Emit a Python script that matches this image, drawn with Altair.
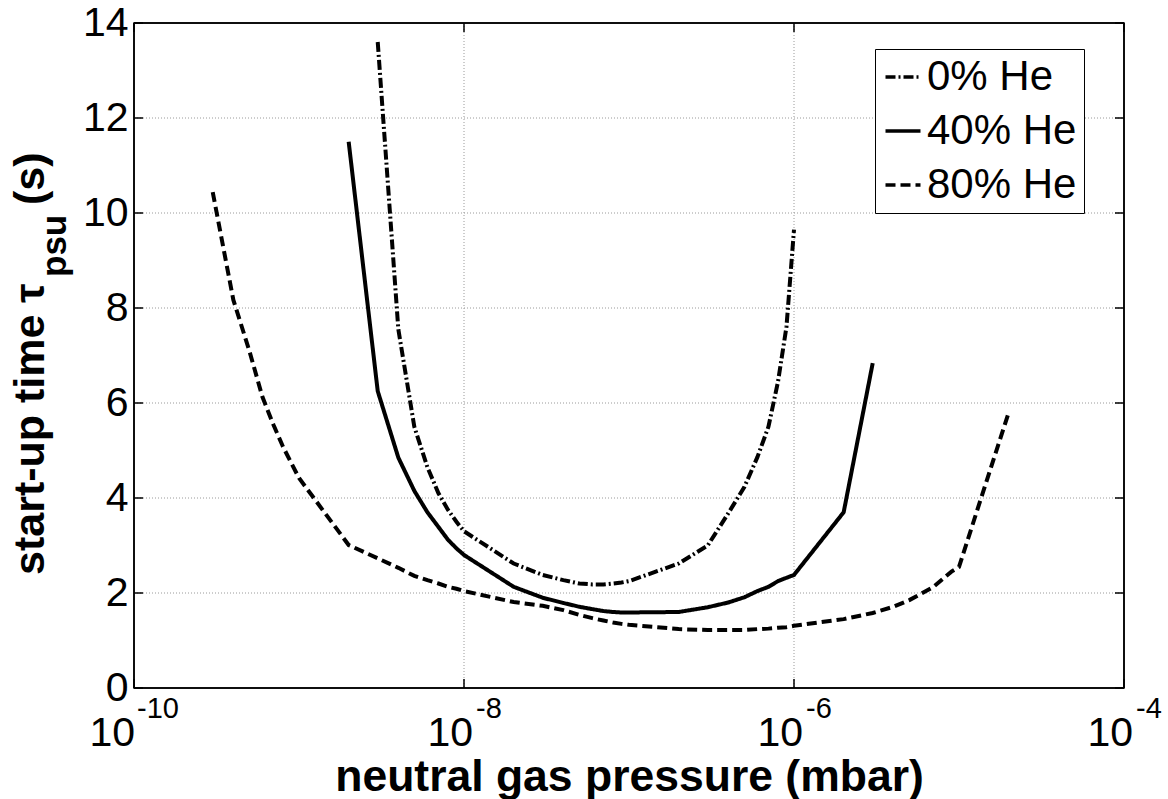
import altair as alt
import pandas as pd

# ---- data ----
series_names = ["0% He", "40% He", "80% He"]

p_0 = [3e-9, 4e-9, 5e-9, 6e-9, 7e-9, 8e-9, 9e-9,
       1e-8, 2e-8, 3e-8, 4e-8, 5e-8, 6e-8, 7e-8, 8e-8, 9e-8,
       1e-7, 2e-7, 3e-7, 4e-7, 5e-7, 6e-7, 7e-7, 8e-7, 9e-7,
       1e-6]
t_0 = [13.6, 7.55, 5.5, 4.65, 4.1, 3.75, 3.5,
       3.3, 2.62, 2.38, 2.27, 2.2, 2.18, 2.18, 2.2, 2.22,
       2.25, 2.62, 3.0, 3.68, 4.23, 4.86, 5.5, 6.45, 7.6,
       9.65]

p_40 = [2e-9, 3e-9, 4e-9, 5e-9, 6e-9, 7e-9, 8e-9, 9e-9,
        1e-8, 2e-8, 3e-8, 4e-8, 5e-8, 6e-8, 7e-8, 8e-8, 9e-8,
        1e-7, 2e-7, 3e-7, 4e-7, 5e-7, 6e-7, 7e-7, 8e-7, 9e-7,
        1e-6, 2e-6, 3e-6]
t_40 = [11.5, 6.25, 4.85, 4.15, 3.7, 3.39, 3.12, 2.94,
        2.8, 2.13, 1.9, 1.79, 1.71, 1.66, 1.62, 1.6, 1.59,
        1.59, 1.6, 1.7, 1.8, 1.91, 2.04, 2.13, 2.25, 2.32,
        2.38, 3.7, 6.84]

p_80 = [3e-10, 4e-10, 5e-10, 6e-10, 7e-10, 8e-10, 9e-10,
        1e-9, 2e-9, 3e-9, 4e-9, 5e-9, 6e-9, 7e-9, 8e-9, 9e-9,
        1e-8, 2e-8, 3e-8, 4e-8, 5e-8, 6e-8, 7e-8, 8e-8, 9e-8,
        1e-7, 2e-7, 3e-7, 4e-7, 5e-7, 6e-7, 7e-7, 8e-7, 9e-7,
        1e-6, 2e-6, 3e-6, 4e-6, 5e-6, 6e-6, 7e-6, 8e-6, 9e-6,
        1e-5, 2e-5]
t_80 = [10.44, 8.17, 7.1, 6.13, 5.54, 5.08, 4.73,
        4.42, 3.01, 2.73, 2.53, 2.36, 2.27, 2.2, 2.13, 2.09,
        2.04, 1.81, 1.73, 1.64, 1.54, 1.47, 1.42, 1.38, 1.35,
        1.33, 1.24, 1.22, 1.22, 1.22, 1.24, 1.25, 1.27, 1.28,
        1.31, 1.45, 1.58, 1.71, 1.85, 2.0, 2.13, 2.3, 2.45,
        2.55, 5.8]

x_tick_values = [1e-10, 1e-8, 1e-6, 1e-4]
x_tick_base = ["10", "10", "10", "10"]
x_tick_exp = ["-10", "-8", "-6", "-4"]
x_grid_values = [1e-8, 1e-6]
y_tick_values = [0, 2, 4, 6, 8, 10, 12, 14]
y_grid_values = [2, 4, 6, 8, 10, 12]

rows = []
for name, ps, ts in zip(series_names, [p_0, p_40, p_80], [t_0, t_40, t_80]):
    for i, (p, t) in enumerate(zip(ps, ts)):
        rows.append({"series": name, "pressure": p, "time": t, "order": i})
df = pd.DataFrame(rows)

xlab_df = pd.DataFrame({"pressure": x_tick_values, "base": x_tick_base, "exp": x_tick_exp})
xt_df = pd.DataFrame({"pressure": x_tick_values})
yt_df = pd.DataFrame({"time": y_tick_values})
xg_df = pd.DataFrame({"pressure": x_grid_values})
yg_df = pd.DataFrame({"time": y_grid_values})
one_df = pd.DataFrame({"k": [0]})

W, H = 990, 665
FONT = "Liberation Sans"
xscale = alt.Scale(type="log", domain=[1e-10, 1e-4])
yscale = alt.Scale(domain=[0, 14], nice=False)
grid_color = "#9a9a9a"

x_axis = alt.Axis(values=x_tick_values, grid=False, labels=False, ticks=False,
                  domain=False, title="neutral gas pressure (mbar)",
                  titleFontSize=44.5, titleFont=FONT, titleFontWeight="bold",
                  titleColor="black", titleBaseline="alphabetic", titleY=102)
y_axis = alt.Axis(values=y_tick_values, grid=False, ticks=False, domain=False,
                  title=None, labelFontSize=41, labelFont=FONT,
                  labelColor="black", labelPadding=6)

grid_style = dict(color=grid_color, strokeWidth=1, strokeDash=[1, 2])
x_grid = alt.Chart(xg_df).mark_rule(**grid_style).encode(
    x=alt.X("pressure:Q", scale=xscale, axis=x_axis), y=alt.value(0), y2=alt.value(H))
y_grid = alt.Chart(yg_df).mark_rule(**grid_style).encode(
    y=alt.Y("time:Q", scale=yscale, axis=y_axis), x=alt.value(0), x2=alt.value(W))

lines = alt.Chart(df).mark_line(strokeWidth=4, color="black").encode(
    x=alt.X("pressure:Q", scale=xscale, axis=x_axis),
    y=alt.Y("time:Q", scale=yscale, axis=y_axis),
    strokeDash=alt.StrokeDash(
        "series:N",
        scale=alt.Scale(domain=series_names, range=[[10, 3, 2, 3], [1, 0], [10, 5]]),
        legend=alt.Legend(orient="none", legendX=741, legendY=26, title=None,
                          symbolType="stroke", symbolSize=1225, symbolStrokeWidth=3.5,
                          symbolStrokeColor="black", labelFontSize=42, labelFont=FONT,
                          labelColor="black", padding=7, strokeColor="black",
                          fillColor="white", rowPadding=12, labelOffset=3,
                          cornerRadius=0)),
    order="order:Q",
)

tick_style = dict(color="black", strokeWidth=1.5)
left_ticks = alt.Chart(yt_df).mark_rule(**tick_style).encode(
    y=alt.Y("time:Q", scale=yscale, axis=y_axis), x=alt.value(0), x2=alt.value(9))
right_ticks = alt.Chart(yt_df).mark_rule(**tick_style).encode(
    y=alt.Y("time:Q", scale=yscale, axis=y_axis), x=alt.value(W - 9), x2=alt.value(W))
bottom_ticks = alt.Chart(xt_df).mark_rule(**tick_style).encode(
    x=alt.X("pressure:Q", scale=xscale, axis=x_axis), y=alt.value(H - 9), y2=alt.value(H))
top_ticks = alt.Chart(xt_df).mark_rule(**tick_style).encode(
    x=alt.X("pressure:Q", scale=xscale, axis=x_axis), y=alt.value(0), y2=alt.value(9))

box = [
    alt.Chart(one_df).mark_rule(**tick_style).encode(x=alt.value(0), x2=alt.value(0), y=alt.value(0), y2=alt.value(H)),
    alt.Chart(one_df).mark_rule(**tick_style).encode(x=alt.value(W), x2=alt.value(W), y=alt.value(0), y2=alt.value(H)),
    alt.Chart(one_df).mark_rule(**tick_style).encode(x=alt.value(0), x2=alt.value(W), y=alt.value(0), y2=alt.value(0)),
    alt.Chart(one_df).mark_rule(**tick_style).encode(x=alt.value(0), x2=alt.value(W), y=alt.value(H), y2=alt.value(H)),
]

def xlabel(filter_expr, base_dx, exp_dx):
    base = alt.Chart(xlab_df).transform_filter(filter_expr).mark_text(
        align="right", baseline="alphabetic", dx=base_dx, fontSize=41, font=FONT,
        color="black").encode(x=alt.X("pressure:Q", scale=xscale, axis=x_axis),
                              y=alt.value(723), text="base:N")
    exp = alt.Chart(xlab_df).transform_filter(filter_expr).mark_text(
        align="left", baseline="alphabetic", dx=exp_dx, fontSize=29, font=FONT,
        color="black").encode(x=alt.X("pressure:Q", scale=xscale, axis=x_axis),
                              y=alt.value(695), text="exp:N")
    return [base, exp]

xl = xlabel("length(datum.exp) > 2", 1, 3) + xlabel("length(datum.exp) <= 2", 9, 12)

def ytitle_piece(txt, x, y, size):
    return alt.Chart(pd.DataFrame({"t": [txt]})).mark_text(
        angle=270, align="left", baseline="alphabetic", fontSize=size,
        fontWeight="bold", font=FONT, color="black").encode(
        x=alt.value(x), y=alt.value(y), text="t:N")

yt = [ytitle_piece("start-up time τ", -90, 552, 43),
      ytitle_piece("psu", -68, 254, 35),
      ytitle_piece("(s)", -90, 182, 43)]

chart = alt.layer(x_grid, y_grid, lines, left_ticks, right_ticks, bottom_ticks, top_ticks,
                  *box, *xl, *yt).properties(
    width=W, height=H,
    autosize=alt.AutoSizeParams(type="none"),
    padding={"left": 134, "top": 23, "right": 44, "bottom": 111},
).configure_view(stroke="black", strokeWidth=1.5)

chart.save("out.html", embed_options={"renderer": "svg", "actions": False})
